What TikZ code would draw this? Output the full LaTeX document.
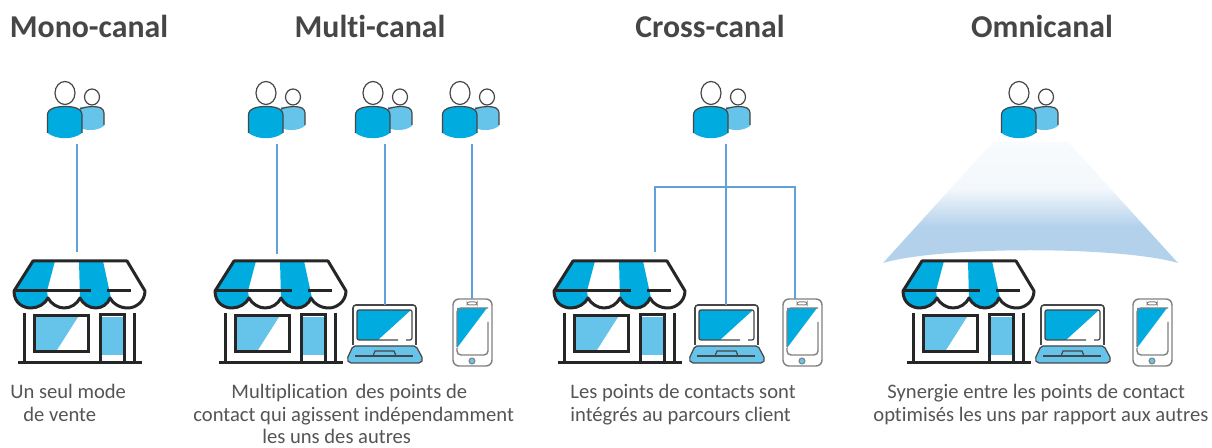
\documentclass[tikz,border=0pt]{standalone}
\usepackage{fontspec}
\setmainfont[Ligatures=NoCommon]{Carlito}
\definecolor{cblue}{RGB}{0,171,223}
\definecolor{clight}{RGB}{102,196,234}
\definecolor{cline}{RGB}{98,160,218}
\definecolor{cgray}{RGB}{70,70,70}
\definecolor{ctext}{RGB}{85,85,85}
\definecolor{conea}{RGB}{248,251,253}
\definecolor{coneb}{RGB}{244,248,252}
\definecolor{conec}{RGB}{180,209,235}
\pgfdeclareverticalshading{coneshade}{100bp}{color(0bp)=(conec); color(40bp)=(conec); color(56bp)=(coneb); color(75bp)=(conea); color(100bp)=(conea)}
\tikzset{
  x=0.5pt,y=-0.5pt,
  wire/.style={draw=cline,line width=0.8pt},
  title/.style={font=\fontsize{15.9}{18}\selectfont\bfseries,text=cgray,inner sep=0pt,anchor=base},
  body/.style={font=\fontsize{10.3}{12}\selectfont,text=ctext,inner sep=0pt,anchor=base west},
  person/.pic={
    \draw[cgray,line width=0.6pt,fill=white] (27,4) ellipse[x radius=7.5,y radius=8];
    \path[fill=clight] (15,14) -- (35,14) .. controls (37,15) and (39,17) .. (39,20) -- (39,33)
       .. controls (32,38) and (22,38) .. (15,35) -- cycle;
    \draw[cgray,line width=0.6pt] (15,16) .. controls (22,13) and (32,13) .. (36,15) .. controls (38,16) and (39,18) .. (39,20) -- (39,32);
    \draw[cgray,line width=0.6pt,fill=white] (0,0) ellipse[x radius=10,y radius=11.5];
    \path[fill=cblue] (-17.5,22) .. controls (-17.5,15) and (-8,13.5) .. (0,13.5) .. controls (8,13.5) and (17,15) .. (17,22)
       -- (17,40) .. controls (8,47) and (-8,47) .. (-17.5,40) -- cycle;
    \draw[cgray,line width=0.6pt] (-17.5,40) -- (-17.5,22) .. controls (-17.5,15) and (-8,13.5) .. (0,13.5) .. controls (8,13.5) and (17,15) .. (17,22) -- (17,40);
  },
  store/.pic={
    \path[fill=white] (33,11) -- (127,11) -- (145,41) -- (14,41) -- cycle;
    \path[fill=cblue] (33,11) -- (55,11) -- (47,41) -- (48,48) .. controls (45,54) and (38,58) .. (31,58) .. controls (24,58) and (14,54) .. (14,41) -- cycle;
    \path[fill=cblue] (79,11) -- (103,11) -- (111,48) .. controls (108,54) and (102,58) .. (96,58) .. controls (89,58) and (83,54) .. (80,48) -- cycle;
    \path[fill=clight] (35,67) -- (78,67) -- (57,100) -- (35,100) -- cycle;
    \path[fill=clight] (101,67) -- (124,67) -- (124,105) -- (101,105) -- cycle;
    \draw[black!85,line width=1.5pt,line join=round]
      (14,41) -- (33,11) -- (127,11) -- (145,41)
      .. controls (145,52) and (135,58) .. (128,58) .. controls (120,58) and (113,54) .. (110,48)
      .. controls (108,54) and (102,58) .. (96,58) .. controls (89,58) and (83,54) .. (80,48)
      .. controls (77,54) and (71,58) .. (64,58) .. controls (58,58) and (51,54) .. (48,48)
      .. controls (45,54) and (38,58) .. (31,58) .. controls (24,58) and (14,54) .. (14,41) -- cycle;
    \draw[black!85,line width=1.5pt] (14,41) -- (91,41) (107,41) -- (131,41);
    \draw[black!85,line width=1.5pt] (24,63) -- (24,113) (134,63) -- (134,113) (18,113) -- (142,113);
    \draw[black!85,line width=1.5pt] (34,66) rectangle (88,102);
    \draw[black!85,line width=1.5pt] (100,113) -- (100,65) -- (124,65) -- (124,113);
  },
  laptop/.pic={
    \path[fill=white] (13,15) rectangle (76,55);
    \path[fill=cblue] (17,20) -- (71,20) -- (38,50) -- (17,50) -- cycle;
    \draw[cgray,line width=0.8pt,rounded corners=1.5pt] (13,55) -- (13,15) -- (76,15) -- (76,55);
    \draw[cgray,line width=0.6pt,rounded corners=1pt] (58,50) -- (17,50) -- (17,20) -- (72,20) -- (72,50) -- (66,50);
    \path[draw=cgray,fill=clight,line width=0.6pt,rounded corners=1pt] (13,56) -- (76,56) -- (83,69) -- (81,73) -- (9,73) -- (7,69) -- cycle;
    \draw[cgray,line width=0.6pt] (33,66) -- (35,61) -- (54,61) -- (56,66);
    \draw[cgray,line width=0.6pt] (15,66) -- (73,66);
  },
  phone/.pic={
    \draw[gray,line width=0.7pt,fill=white,rounded corners=3pt] (113,9) rectangle (152,76);
    \path[fill=cblue] (117,18) -- (147,18) -- (117,58) -- cycle;
    \draw[gray,line width=0.7pt,rounded corners=2pt] (117,57) -- (117,18) -- (148,18);
    \draw[gray,line width=0.7pt,rounded corners=2pt] (148,32) -- (148,65) -- (117,65) -- (117,58);
    \draw[gray,line width=0.5pt,fill=white,rounded corners=1pt] (127,12) rectangle (137,15);
    \draw[gray,line width=0.5pt,fill=clight] (132,71) circle (3);
  }
}
\begin{document}
\begin{tikzpicture}
\useasboundingbox[fill=white] (0,0) rectangle (1212,448);
\shade[shading=coneshade] (993,142) -- (1068,142) -- (1178,263) .. controls (1120,246) and (940,246) .. (883,263) -- cycle;
\node[title] (t1) at (89,38) {Mono-canal};
\node[title] (t2) at (370,38) {Multi-canal};
\node[title] (t3) at (710,38) {Cross-canal};
\node[title] (t4) at (1042,38) {Omnicanal};
\pic (p1) at (65,93) {person};
\pic (p2) at (266,93) {person};
\pic (p3) at (373,93) {person};
\pic (p4) at (460,93) {person};
\pic (p5) at (711,93) {person};
\pic (p6) at (1019,93) {person};
\pic (s1) at (0,250) {store};
\pic (s2) at (201,250) {store};
\pic (s3) at (540,250) {store};
\pic (s4) at (889,250) {store};
\pic (l2) at (340,290) {laptop};
\pic (l3) at (682,290) {laptop};
\pic (l4) at (1028,290) {laptop};
\pic (m2) at (340,290) {phone};
\pic (m3) at (670,290) {phone};
\pic (m4) at (1020,290) {phone};
\coordinate (a1) at (77,144); \coordinate (b1) at (77,252);
\coordinate (a2) at (277,144); \coordinate (b2) at (277,254);
\coordinate (a3) at (385,144); \coordinate (b3) at (385,305);
\coordinate (a4) at (472,144); \coordinate (b4) at (472,299);
\coordinate (a5) at (726,144); \coordinate (b5) at (726,305);
\coordinate (c5) at (655,252); \coordinate (d5) at (795,299); \coordinate (h5) at (726,187);
\draw[wire] (a1) -- (b1);
\draw[wire] (a2) -- (b2);
\draw[wire] (a3) -- (b3);
\draw[wire] (a4) -- (b4);
\draw[wire] (a5) -- (b5);
\draw[wire] (c5) |- (h5) -| (d5);
\node[body] (u1) at (10,399) {Un seul mode};
\node[body] (u2) at (23,422) {de vente};
\node[body] (v1) at (231,399) {Multiplication\hspace{0.15em}\ des points de};
\node[body] (v2) at (193,422) {contact qui agissent indépendamment};
\node[body] (v3) at (262,444) {les uns des autres};
\node[body] (w1) at (570,399) {Les points de contacts sont};
\node[body] (w2) at (570,422) {intégrés au parcours client};
\node[body] (x1) at (887,399) {Synergie entre les points de contact};
\node[body] (x2) at (873,422) {optimisés les uns par rapport aux autres};
\end{tikzpicture}
\end{document}
